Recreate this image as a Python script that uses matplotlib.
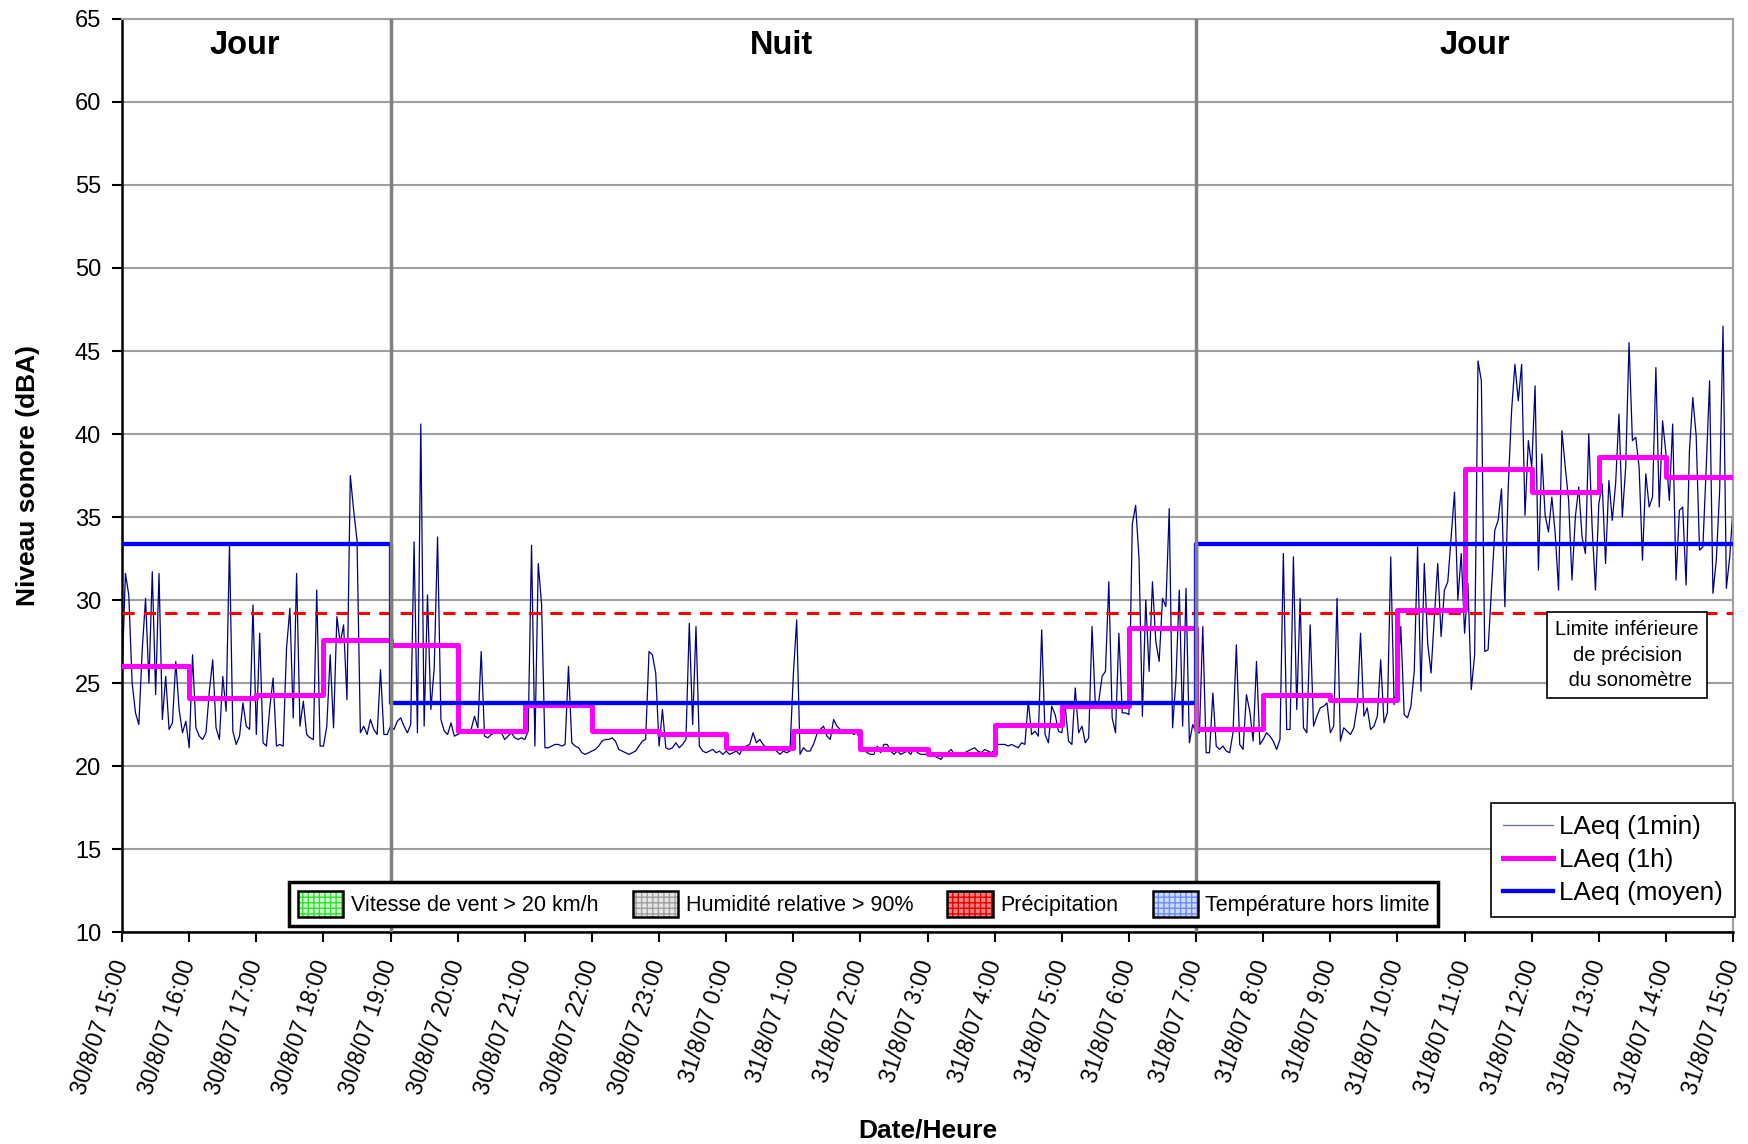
import numpy as np
import matplotlib.pyplot as plt
from matplotlib.patches import Patch
from matplotlib.lines import Line2D

plt.rcParams['font.family'] = ['Liberation Sans', 'DejaVu Sans']

# Axe des x : heures depuis le 30/8/07 15:00
hour_labels = ['30/8/07 15:00', '30/8/07 16:00', '30/8/07 17:00', '30/8/07 18:00',
               '30/8/07 19:00', '30/8/07 20:00', '30/8/07 21:00', '30/8/07 22:00',
               '30/8/07 23:00', '31/8/07 0:00', '31/8/07 1:00', '31/8/07 2:00',
               '31/8/07 3:00', '31/8/07 4:00', '31/8/07 5:00', '31/8/07 6:00',
               '31/8/07 7:00', '31/8/07 8:00', '31/8/07 9:00', '31/8/07 10:00',
               '31/8/07 11:00', '31/8/07 12:00', '31/8/07 13:00', '31/8/07 14:00',
               '31/8/07 15:00']

laeq_1min = [
    25.5, 31.6, 30.3, 25.0, 23.2, 22.5, 27.0, 30.1, 25.0, 31.7, 24.3, 31.6, 22.8, 25.4, 22.2, 22.6, 26.3, 23.4, 22.0, 22.7,  # 15h
    21.1, 26.7, 22.3, 21.8, 21.6, 22.0, 24.5, 26.4, 22.3, 21.6, 25.4, 23.3, 33.3, 22.1, 21.3, 21.8, 23.8, 22.4, 22.2, 29.7,  # 16h
    21.9, 28.0, 21.4, 21.2, 23.5, 25.3, 21.2, 21.3, 21.2, 27.1, 29.5, 22.9, 31.6, 22.4, 23.9, 21.9, 21.7, 21.6, 30.6, 21.2,  # 17h
    21.2, 22.4, 26.7, 22.3, 29.0, 27.4, 28.5, 24.0, 37.5, 35.4, 33.6, 22.0, 22.4, 21.9, 22.8, 22.2, 21.9, 25.8, 21.9, 21.9,  # 18h
    22.4, 22.2, 22.7, 22.9, 22.4, 22.0, 22.5, 33.5, 22.0, 40.6, 22.4, 30.3, 23.4, 25.9, 33.8, 22.8, 22.1, 21.9, 22.6, 21.8,  # 19h
    21.9, 22.0, 22.0, 22.0, 22.2, 23.0, 22.3, 26.9, 21.8, 21.7, 21.9, 22.0, 22.1, 22.0, 21.6, 21.8, 22.0, 21.7, 21.6, 21.7,  # 20h
    21.6, 22.1, 33.3, 21.2, 32.2, 29.7, 21.1, 21.1, 21.2, 21.3, 21.3, 21.2, 21.3, 26.0, 21.4, 21.2, 21.1, 20.8, 20.7, 20.8,  # 21h
    20.9, 21.0, 21.2, 21.5, 21.6, 21.6, 21.7, 21.5, 21.0, 20.9, 20.8, 20.7, 20.8, 20.9, 21.2, 21.5, 21.6, 26.9, 26.7, 25.6,  # 22h
    21.2, 23.4, 21.1, 21.0, 21.1, 21.4, 21.1, 21.3, 21.6, 28.6, 22.5, 28.4, 21.2, 20.9, 20.8, 20.9, 21.0, 20.8, 20.9, 20.7,  # 23h
    20.9, 20.7, 20.8, 20.9, 20.7, 21.1, 21.2, 21.3, 22.0, 21.4, 21.6, 21.3, 21.1, 21.0, 21.1, 20.9, 20.7, 20.9, 20.8, 20.9,  # 0h
    25.5, 28.8, 20.7, 21.1, 20.9, 20.9, 21.3, 21.9, 22.2, 22.4, 21.8, 21.6, 22.8, 22.4, 22.2, 22.0, 22.0, 22.1, 21.9, 22.0,  # 1h
    21.5, 21.0, 20.8, 20.7, 20.7, 21.2, 20.8, 21.3, 21.3, 20.9, 20.7, 20.9, 20.7, 20.8, 20.9, 20.7, 21.1, 20.8, 20.7, 20.7,  # 2h
    20.7, 20.7, 20.6, 20.5, 20.4, 20.7, 20.8, 21.0, 20.7, 20.6, 20.6, 20.8, 20.9, 21.0, 21.1, 20.9, 20.8, 21.0, 20.9, 20.8,  # 3h
    21.0, 21.3, 21.3, 21.3, 21.2, 21.3, 21.2, 21.1, 21.4, 21.3, 23.9, 21.9, 22.1, 21.8, 28.2, 21.9, 21.4, 23.6, 23.1, 22.1,  # 4h
    22.0, 23.6, 21.5, 21.3, 24.7, 22.0, 22.4, 21.4, 21.7, 28.4, 23.6, 23.9, 25.4, 25.7, 31.1, 22.9, 22.0, 28.0, 23.2, 23.2,  # 5h
    23.1, 34.6, 35.7, 32.5, 23.0, 30.0, 25.7, 31.1, 27.5, 26.3, 30.1, 29.6, 35.5, 22.3, 25.2, 30.6, 22.4, 30.7, 21.4, 22.5,  # 6h
    22.0, 22.0, 28.4, 20.8, 20.8, 24.4, 21.2, 21.0, 21.2, 20.9, 20.8, 22.0, 27.3, 21.3, 21.0, 24.3, 23.3, 21.5, 26.3, 21.3,  # 7h
    21.6, 22.0, 21.8, 21.5, 21.0, 21.6, 32.8, 22.2, 22.2, 32.6, 23.4, 30.1, 22.3, 22.0, 28.5, 22.4, 23.0, 23.5, 23.6, 23.8,  # 8h
    22.0, 22.4, 30.1, 21.5, 22.3, 22.1, 21.9, 22.3, 23.6, 28.0, 23.0, 23.5, 22.2, 22.4, 23.0, 26.4, 22.6, 23.2, 32.6, 23.7,  # 9h
    25.0, 28.4, 23.1, 22.9, 23.6, 25.7, 33.2, 24.5, 32.2, 27.4, 25.6, 29.0, 32.2, 27.8, 30.6, 31.1, 33.8, 36.5, 30.0, 32.8,  # 10h
    28.0, 31.0, 24.6, 26.7, 44.4, 43.2, 26.9, 27.0, 30.6, 34.2, 34.8, 36.7, 29.6, 36.8, 41.4, 44.2, 42.0, 44.2, 35.1, 39.6,  # 11h
    38.0, 42.9, 31.8, 38.8, 35.1, 34.1, 36.2, 34.0, 30.6, 40.2, 38.0, 36.0, 31.2, 35.0, 36.8, 33.8, 32.8, 40.0, 34.4, 30.6,  # 12h
    35.8, 37.0, 32.2, 37.2, 34.8, 37.0, 41.2, 35.0, 38.0, 45.5, 39.6, 39.8, 38.0, 32.4, 37.6, 35.6, 36.2, 44.0, 35.6, 40.8,  # 13h
    38.8, 36.0, 40.6, 31.2, 35.4, 35.6, 30.9, 39.0, 42.2, 39.9, 33.0, 33.2, 38.0, 43.2, 30.4, 32.4, 36.6, 46.5, 30.7, 32.6,  # 14h
    35.6,  # 15h
]

# LAeq (1h), de 15h à 14h
laeq_1h = [26.0, 24.1, 24.3, 27.6, 27.3, 22.1, 23.7, 22.1, 21.9, 21.1, 22.1, 21.0,
           20.7, 22.5, 23.6, 28.3, 22.2, 24.3, 24.0, 29.4, 37.9, 36.5, 38.6, 37.4]

# LAeq moyen par période
periodes = ['Jour', 'Nuit', 'Jour']
periode_debut = [0, 4, 16]
periode_fin = [4, 16, 24]
periode_texte_x = [1.83, 9.83, 20.16]
laeq_moyen = [33.4, 23.8, 33.4]

limite = 29.2

# légende des conditions météo
meteo_labels = ['Vitesse de vent > 20 km/h', 'Humidité relative > 90%',
                'Précipitation', 'Température hors limite']
meteo_fond = ['#ccffcc', '#e6e6e6', '#ff8080', '#cfdcff']
meteo_trame = ['#33dd33', '#a0a0a0', '#e00000', '#6a8cff']

fig = plt.figure(figsize=(17.49, 11.44), dpi=100)
ax = fig.add_axes([0.0698, 0.1853, 0.9211, 0.7981])

t = np.arange(len(laeq_1min)) * 3 / 60.0
ax.plot(t, laeq_1min, color='#000080', lw=0.9, zorder=2)

ax.axhline(limite, color='#ff0000', lw=2.2, ls=(0, (4, 3)), zorder=3)

h = np.arange(len(laeq_1h) + 1)
ax.step(h, laeq_1h + [laeq_1h[-1]], where='post', color='#ff00ff', lw=3.6, zorder=4)

xb = periode_debut + [periode_fin[-1]]
ax.step(xb, laeq_moyen + [laeq_moyen[-1]], where='post', color='#0000ff', lw=3.1, zorder=5)

for x in periode_debut[1:]:
    ax.axvline(x, color='#808080', lw=2.5, zorder=6)

for nom, xt in zip(periodes, periode_texte_x):
    ax.text(xt, 63.4, nom, ha='center', va='center', fontsize=23.5, fontweight='bold')

ax.text(22.42, 26.68, 'Limite inférieure\nde précision\n du sonomètre',
        ha='center', va='center', fontsize=14.5, linespacing=1.45, zorder=7,
        bbox=dict(boxstyle='square,pad=0.4', fc='white', ec='black', lw=1.2))

ax.set_xlim(0, 24)
ax.set_ylim(10, 65)
ax.set_yticks(np.arange(10, 66, 5))
ax.set_xticks(np.arange(25))
ax.set_xticklabels(hour_labels, rotation=72, ha='right', va='center',
                   rotation_mode='anchor')
ax.tick_params(axis='both', length=7, width=1.5, color='black')
ax.tick_params(axis='y', labelsize=17, pad=8)
ax.tick_params(axis='x', labelsize=16.5, pad=14)
ax.yaxis.grid(True, color='#a0a0a0', lw=1.5)
ax.set_axisbelow(True)
for s in ['left', 'bottom']:
    ax.spines[s].set_linewidth(1.8)
for s in ['top', 'right']:
    ax.spines[s].set_color('#a0a0a0')
    ax.spines[s].set_linewidth(1.5)

ax.set_ylabel('Niveau sonore (dBA)', fontsize=19, fontweight='bold', labelpad=25)
fig.text(0.5306, 0.0122, 'Date/Heure', fontsize=19, fontweight='bold', ha='center', va='center')

# légende des courbes
lignes = [Line2D([], [], color='#000080', lw=0.9, alpha=0.6),
          Line2D([], [], color='#ff00ff', lw=3.6),
          Line2D([], [], color='#0000ff', lw=3.1)]
leg1 = fig.legend(lignes, ['LAeq (1min)', 'LAeq (1h)', 'LAeq (moyen)'],
                  loc='lower right', bbox_to_anchor=(0.992, 0.1984), fontsize=18.8,
                  fancybox=False, edgecolor='black', framealpha=1, borderaxespad=0,
                  handlelength=1.9, handletextpad=0.25, borderpad=0.45,
                  labelspacing=0.35)
leg1.get_frame().set_linewidth(1.2)

# légende météo
patches = [(Patch(facecolor=fc, edgecolor=tc, hatch='+++', lw=0),
            Patch(fill=False, edgecolor='black', lw=1.8))
           for fc, tc in zip(meteo_fond, meteo_trame)]
leg2 = fig.legend(patches, meteo_labels, loc='lower left',
                  bbox_to_anchor=(0.1655, 0.1906), ncol=4, fontsize=15.5,
                  fancybox=False, edgecolor='black', framealpha=1, borderaxespad=0,
                  handlelength=2.1, handleheight=1.5, handletextpad=0.35,
                  columnspacing=1.6, borderpad=0.4)
leg2.get_frame().set_linewidth(2.5)

fig.savefig('out.png', dpi=100)
